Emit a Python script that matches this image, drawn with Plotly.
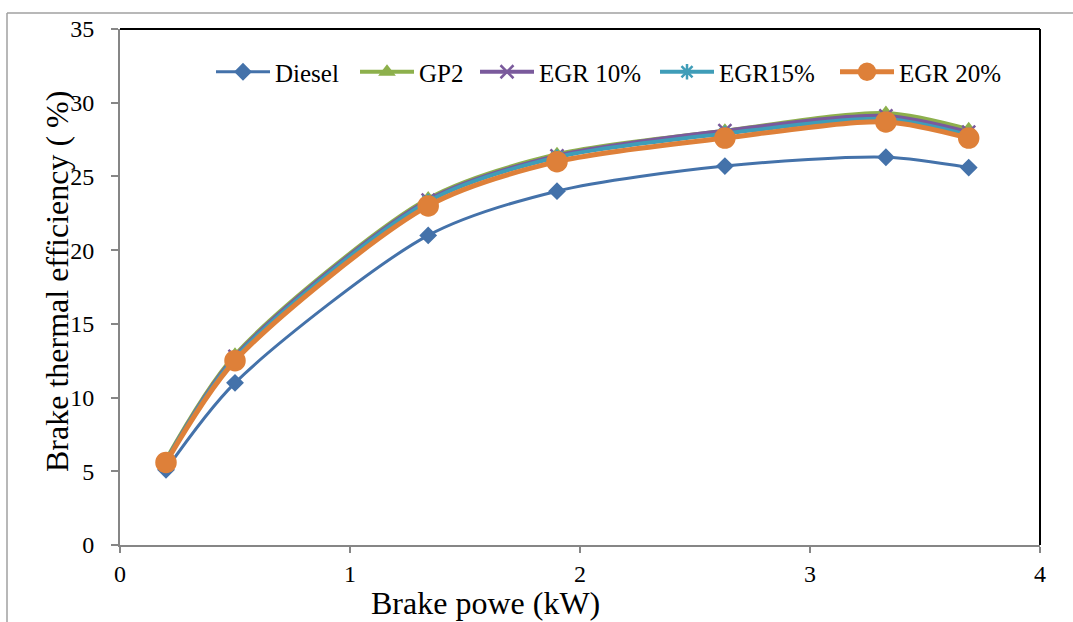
import plotly.graph_objects as go

x_power = [0.2, 0.5, 1.34, 1.9, 2.63, 3.33, 3.69]
diesel = [5.1, 11.0, 21.0, 24.0, 25.7, 26.3, 25.6]
gp2 = [5.8, 12.9, 23.5, 26.5, 28.1, 29.3, 28.2]
egr10 = [5.7, 12.8, 23.4, 26.4, 28.1, 29.1, 28.0]
egr15 = [5.7, 12.7, 23.3, 26.3, 27.9, 28.9, 27.8]
egr20 = [5.6, 12.5, 23.0, 26.0, 27.6, 28.7, 27.6]

x_title = "Brake powe (kW)"
y_title = "Brake thermal efficiency ( %)"

FONT = "Liberation Serif, Times New Roman, serif"

series = [
    ("Diesel", diesel, "#4472AA", "diamond", 11, 3),
    ("GP2", gp2, "#8DB04C", "triangle-up", 11, 4),
    ("EGR 10%", egr10, "#7A5A9C", "x-thin", 13, 4),
    ("EGR15%", egr15, "#3F9DB8", "asterisk", 13, 4),
    ("EGR 20%", egr20, "#DE8039", "circle", 19, 5),
]
legend_left_px = [211, 355, 475, 655, 835]

L, R, T, B = 120, 1040, 29, 545
W, H = 1073, 622

def px(v):
    return (v - L) / (R - L)

def py(v):
    return (B - v) / (B - T)

fig = go.Figure()
legend_layouts = {}
for i, (name, ys, col, sym, sz, lw) in enumerate(series):
    lname = "legend" if i == 0 else f"legend{i+1}"
    fig.add_trace(go.Scatter(
        x=x_power, y=ys, name=name, mode="lines+markers", legend=lname,
        line=dict(color=col, width=lw, shape="spline", smoothing=0.8),
        marker=dict(symbol=sym, size=sz, color=col,
                    line=dict(color=col, width=2.5)),
    ))
    legend_layouts[lname] = dict(
        orientation="h", x=px(legend_left_px[i]), y=py(72),
        xanchor="left", yanchor="middle", bgcolor="rgba(0,0,0,0)",
        font=dict(size=25, family=FONT, color="black"), itemwidth=54,
    )

fig.update_layout(
    width=W, height=H,
    margin=dict(l=L, r=W - R, t=T, b=H - B),
    paper_bgcolor="white", plot_bgcolor="white",
    font=dict(family=FONT, color="black", size=24),
    xaxis=dict(range=[0, 4], dtick=1, showgrid=False, zeroline=False,
               showline=True, linecolor="#868686", linewidth=2,
               ticks="outside", ticklen=6, tickcolor="#868686", tickwidth=1.5,
               tickfont=dict(size=24, family=FONT, color="black"), ticklabelstandoff=0),
    yaxis=dict(range=[0, 35], dtick=5, showgrid=False, zeroline=False,
               showline=True, linecolor="#868686", linewidth=2,
               ticks="outside", ticklen=7, tickcolor="#868686", tickwidth=1.5,
               tickfont=dict(size=24, family=FONT, color="black"), ticklabelstandoff=12),
    showlegend=True,
    annotations=[
        dict(text=x_title, xref="paper", yref="paper", x=px(485), y=py(603),
             xanchor="center", yanchor="middle", showarrow=False,
             font=dict(size=32, family=FONT, color="black")),
        dict(text=y_title, xref="paper", yref="paper", x=px(57), y=py(282),
             xanchor="center", yanchor="middle", showarrow=False, textangle=-90,
             font=dict(size=32, family=FONT, color="black")),
    ],
    shapes=[
        dict(type="line", xref="paper", yref="paper", x0=0, x1=1, y0=1, y1=1,
             line=dict(color="black", width=2)),
        dict(type="line", xref="paper", yref="paper", x0=1, x1=1, y0=0, y1=1,
             line=dict(color="black", width=2)),
        dict(type="line", xref="paper", yref="paper", x0=px(7), x1=px(W + 5), y0=py(13), y1=py(13),
             line=dict(color="#A0A0A0", width=1.5)),
        dict(type="line", xref="paper", yref="paper", x0=px(7), x1=px(7), y0=py(13), y1=py(H + 5),
             line=dict(color="#A0A0A0", width=1.5)),
    ],
    **legend_layouts,
)

fig.write_html("out.html")
